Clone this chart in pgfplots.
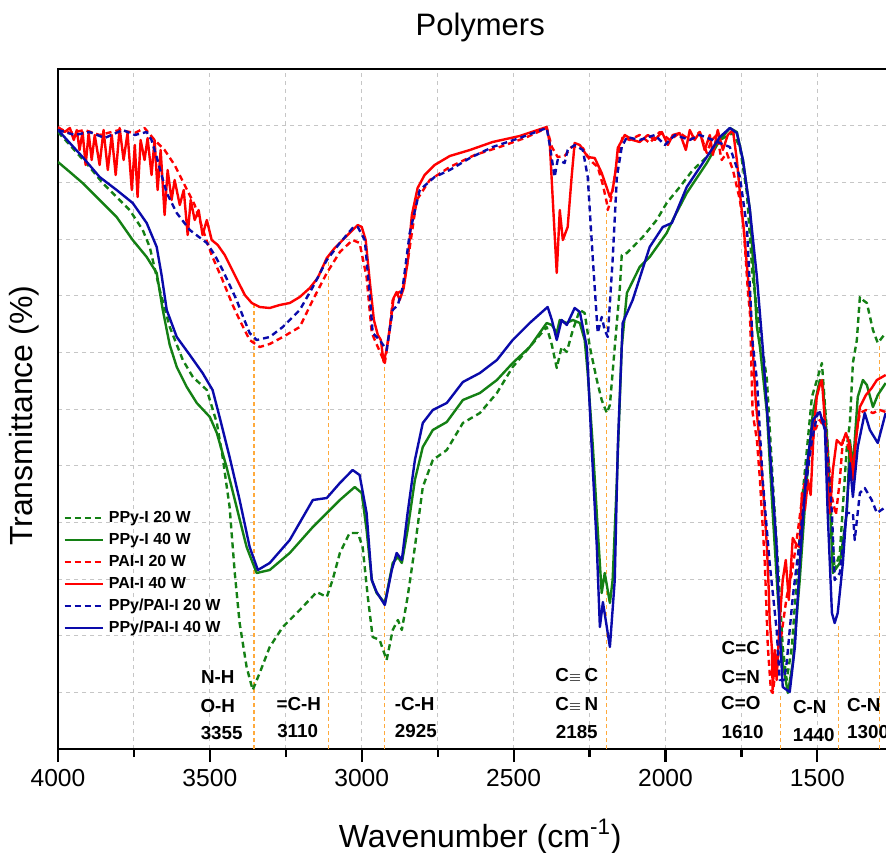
\documentclass[border=0pt]{standalone}
\usepackage{pgfplots}
\pgfplotsset{compat=1.18}
\usepackage{fontspec}
\setmainfont{Liberation Sans}
\definecolor{cgreen}{RGB}{20,128,20}
\definecolor{cred}{RGB}{255,0,0}
\definecolor{cblue}{RGB}{10,10,170}
\definecolor{corange}{RGB}{255,170,60}
\begin{document}
\begin{tikzpicture}
\begin{axis}[
  scale only axis, width=422.2pt, height=340pt,
  x dir=reverse, xmin=1220, xmax=4000, ymin=0, ymax=680,
  xtick={1500,2000,2500,3000,3500,4000},
  minor xtick={1250,1750,2250,2750,3250,3750},
  ytick={56.667,113.333,170,226.667,283.333,340,396.667,453.333,510,566.667,623.333},
  yticklabels={},
  ytick style={draw=none},
  xtick pos=bottom,
  tick align=outside,
  major tick length=6.5pt, minor tick length=4pt,
  every tick/.style={black, line width=1.1pt},
  axis line style={line width=1.1pt},
  grid=both,
  major grid style={gray!45, dash pattern=on 2pt off 2pt, line width=0.5pt},
  minor grid style={gray!45, dash pattern=on 2pt off 2pt, line width=0.5pt},
  /pgf/number format/1000 sep={},
  xticklabel style={font=\fontsize{12.3}{14}\selectfont, /pgf/number format/assume math mode=true},
  title={Polymers},
  title style={font=\fontsize{15.5}{18}\selectfont, at={(axis description cs:0.5,1)}, anchor=base, yshift=10.5pt},
  xlabel={Wavenumber (cm\textsuperscript{-1})},
  xlabel style={font=\fontsize{16}{19}\selectfont, at={(axis description cs:0.5,0)}, anchor=base, yshift=-49pt},
  ylabel={Transmittance (\%)},
  ylabel style={font=\fontsize{16}{19}\selectfont, at={(axis description cs:-0.0296,0.49)}, anchor=base},
  legend cell align=left,
  legend image code/.code={\draw[#1] (0pt,0pt) -- (19pt,0pt);},
  legend style={at={(axis description cs:0.006,0.354)}, anchor=north west, draw=none, fill=none,
    font=\bfseries\fontsize{8}{9}\selectfont, row sep=1.5pt, inner sep=0pt,
    nodes={inner sep=1pt, text height=6pt, text depth=1.5pt}, /tikz/column sep=1.5pt},
  every axis plot/.append style={line width=1.2pt, line join=round},
]
\coordinate (SW) at (axis cs:4000,0);
% reference lines
\addplot[corange, line width=0.6pt, dash pattern=on 2pt off 1.5pt, forget plot] coordinates {(3355,0) (3355,444)};
\addplot[corange, line width=0.6pt, dash pattern=on 2pt off 1.5pt, forget plot] coordinates {(3110,0) (3110,492)};
\addplot[corange, line width=0.6pt, dash pattern=on 2pt off 1.5pt, forget plot] coordinates {(2925,0) (2925,382)};
\addplot[corange, line width=0.6pt, dash pattern=on 2pt off 1.5pt, forget plot] coordinates {(2195,0) (2195,539)};
\addplot[corange, line width=0.6pt, dash pattern=on 2pt off 1.5pt, forget plot] coordinates {(1622,0) (1622,54)};
\addplot[corange, line width=0.6pt, dash pattern=on 2pt off 1.5pt, forget plot] coordinates {(1430,0) (1430,126)};
\addplot[corange, line width=0.6pt, dash pattern=on 2pt off 1.5pt, forget plot] coordinates {(1295,0) (1295,406)};

% PPy-I 20 W
\addplot[cgreen, dash pattern=on 3pt off 2pt] coordinates {
(4000,617)(3961,604)(3896,582)(3853,566)(3807,552)(3764,539)(3721,519)(3698,502)(3665,459)(3632,422)(3589,389)(3556,372)(3510,359)(3477,326)(3458,292)(3435,242)(3418,176)(3402,126)(3379,82)(3359,59)(3336,76)(3303,102)(3260,122)(3204,139)(3148,157)(3115,152)(3096,169)(3072,196)(3040,216)(3013,216)(2997,202)(2980,152)(2964,112)(2941,109)(2918,89)(2898,119)(2881,129)(2868,119)(2849,152)(2825,202)(2799,262)(2766,289)(2720,299)(2667,326)(2611,336)(2555,356)(2503,382)(2447,402)(2391,422)(2374,404)(2358,381)(2342,402)(2325,397)(2305,419)(2282,439)(2266,436)(2249,402)(2226,369)(2210,349)(2193,336)(2183,344)(2167,402)(2150,462)(2144,494)(2127,496)(2075,512)(2029,529)(1996,546)(1953,562)(1910,579)(1864,592)(1821,609)(1778,616)(1755,602)(1732,556)(1713,472)(1689,419)(1666,369)(1647,269)(1630,186)(1614,102)(1601,69)(1584,102)(1568,169)(1548,256)(1518,352)(1485,386)(1469,319)(1452,219)(1443,179)(1426,196)(1403,302)(1393,326)(1383,386)(1370,409)(1360,452)(1350,449)(1337,446)(1317,419)(1301,406)(1275,416)};
\addlegendentry{PPy-I 20 W}
% PPy-I 40 W
\addplot[cgreen] coordinates {
(4000,587)(3961,577)(3919,566)(3863,549)(3807,532)(3754,509)(3708,492)(3675,476)(3655,439)(3632,404)(3609,382)(3576,362)(3543,346)(3500,332)(3477,316)(3445,282)(3412,242)(3379,202)(3346,176)(3303,179)(3237,196)(3161,222)(3115,236)(3072,249)(3023,262)(3000,256)(2984,219)(2967,169)(2951,156)(2924,146)(2898,186)(2881,192)(2868,186)(2849,219)(2825,269)(2799,302)(2766,319)(2720,327)(2667,349)(2611,356)(2555,369)(2503,386)(2447,402)(2391,426)(2374,424)(2358,416)(2348,429)(2325,426)(2305,429)(2282,426)(2266,409)(2256,376)(2239,302)(2223,219)(2210,156)(2200,176)(2183,146)(2174,169)(2160,269)(2144,402)(2127,456)(2085,482)(2052,492)(1996,516)(1976,529)(1930,556)(1864,586)(1821,609)(1788,621)(1765,617)(1745,589)(1722,539)(1699,422)(1689,402)(1666,336)(1647,236)(1630,152)(1614,86)(1597,56)(1581,86)(1558,169)(1535,269)(1515,336)(1492,369)(1482,364)(1466,302)(1449,176)(1426,186)(1403,236)(1393,309)(1383,282)(1367,352)(1350,369)(1337,364)(1317,342)(1301,354)(1275,366)};
\addlegendentry{PPy-I 40 W}
% PAI-I 20 W
\addplot[cred, dash pattern=on 3pt off 2pt] coordinates {
(4000,621)(3961,616)(3912,619)(3863,614)(3797,619)(3747,616)(3715,621)(3682,609)(3649,599)(3616,584)(3583,564)(3550,544)(3517,514)(3494,494)(3477,482)(3461,471)(3445,459)(3425,444)(3402,429)(3369,409)(3336,402)(3303,405)(3260,412)(3204,422)(3161,449)(3115,476)(3072,497)(3030,509)(3007,506)(2984,472)(2967,416)(2947,402)(2924,386)(2908,419)(2898,449)(2881,456)(2865,459)(2849,487)(2819,549)(2776,569)(2710,582)(2628,594)(2546,602)(2463,611)(2391,621)(2374,602)(2355,592)(2332,593)(2309,602)(2289,602)(2272,601)(2249,589)(2223,582)(2206,564)(2193,546)(2190,539)(2180,549)(2174,559)(2157,592)(2141,612)(2118,609)(2085,614)(2052,606)(2019,617)(1986,609)(1953,616)(1920,609)(1887,617)(1864,596)(1848,609)(1831,614)(1815,589)(1798,596)(1778,579)(1755,549)(1742,519)(1729,459)(1722,436)(1713,336)(1699,309)(1689,269)(1673,186)(1663,102)(1653,59)(1647,56)(1637,79)(1624,102)(1601,152)(1584,176)(1568,209)(1548,256)(1525,296)(1508,319)(1492,329)(1472,319)(1452,252)(1439,234)(1426,269)(1416,309)(1400,304)(1383,282)(1370,319)(1360,336)(1340,339)(1317,336)(1294,339)(1275,337)};
\addlegendentry{PAI-I 20 W}
% PAI-I 40 W
\addplot[cred] coordinates {
(4000,622)(3978,617)(3961,621)(3948,609)(3938,619)(3929,599)(3919,617)(3909,584)(3899,616)(3889,589)(3879,614)(3863,584)(3850,619)(3836,579)(3823,614)(3810,574)(3797,621)(3784,589)(3771,616)(3757,559)(3747,604)(3738,552)(3728,609)(3715,589)(3705,611)(3692,574)(3682,609)(3672,559)(3662,599)(3649,534)(3639,579)(3626,549)(3616,569)(3599,544)(3586,559)(3573,514)(3563,549)(3550,529)(3537,539)(3524,514)(3510,529)(3494,509)(3474,504)(3451,494)(3418,474)(3385,454)(3362,446)(3336,442)(3303,441)(3270,444)(3237,446)(3204,452)(3171,461)(3145,471)(3115,491)(3089,501)(3056,511)(3030,519)(3013,524)(3000,522)(2987,509)(2974,469)(2960,429)(2947,414)(2937,409)(2928,387)(2918,399)(2905,427)(2895,451)(2885,457)(2875,449)(2862,461)(2849,487)(2835,534)(2816,561)(2793,574)(2760,584)(2710,593)(2644,599)(2569,607)(2480,613)(2391,622)(2381,606)(2371,549)(2358,476)(2348,539)(2338,509)(2322,522)(2309,572)(2299,606)(2282,604)(2256,592)(2233,591)(2210,576)(2193,561)(2183,552)(2174,559)(2164,579)(2157,601)(2134,614)(2108,609)(2085,607)(2058,614)(2035,609)(2012,617)(1992,604)(1976,614)(1953,616)(1933,599)(1920,619)(1904,609)(1887,617)(1871,599)(1854,614)(1844,594)(1828,619)(1811,599)(1795,614)(1778,619)(1765,589)(1755,556)(1742,519)(1732,484)(1722,449)(1713,402)(1703,349)(1689,302)(1676,249)(1666,202)(1660,159)(1657,129)(1650,102)(1647,59)(1640,99)(1634,69)(1624,129)(1614,169)(1604,189)(1594,149)(1581,211)(1568,204)(1558,202)(1551,256)(1541,239)(1531,269)(1522,254)(1512,319)(1502,352)(1492,364)(1485,369)(1479,344)(1472,309)(1459,236)(1449,279)(1436,309)(1420,304)(1406,316)(1393,304)(1383,269)(1373,309)(1360,342)(1340,354)(1321,361)(1304,369)(1275,374)};
\addlegendentry{PAI-I 40 W}
% PPy/PAI-I 20 W
\addplot[cblue, dash pattern=on 3pt off 2pt] coordinates {
(4000,619)(3945,614)(3896,617)(3846,611)(3787,619)(3747,614)(3708,617)(3692,609)(3675,592)(3659,574)(3642,556)(3609,536)(3566,519)(3510,506)(3484,494)(3458,479)(3435,464)(3412,449)(3389,431)(3369,416)(3346,409)(3303,412)(3260,422)(3204,439)(3161,462)(3115,489)(3072,506)(3030,521)(3013,522)(2990,509)(2974,456)(2964,416)(2941,409)(2918,399)(2898,439)(2881,444)(2865,462)(2842,516)(2809,559)(2760,572)(2710,579)(2644,591)(2569,602)(2480,611)(2391,621)(2381,604)(2365,572)(2355,589)(2332,586)(2322,599)(2299,604)(2272,599)(2256,572)(2239,489)(2223,416)(2210,432)(2200,419)(2190,412)(2174,489)(2160,572)(2144,602)(2127,612)(2085,609)(2035,614)(2002,604)(1969,614)(1920,609)(1887,614)(1844,609)(1821,606)(1788,602)(1755,572)(1732,522)(1713,406)(1699,369)(1680,269)(1657,186)(1634,119)(1624,69)(1610,69)(1601,86)(1581,152)(1558,209)(1541,256)(1518,309)(1499,336)(1475,326)(1452,236)(1443,169)(1426,176)(1403,236)(1383,236)(1377,209)(1360,256)(1344,261)(1321,249)(1304,236)(1275,242)};
\addlegendentry{PPy/PAI-I 20 W}
% PPy/PAI-I 40 W
\addplot[cblue] coordinates {
(4000,619)(3961,606)(3919,592)(3863,572)(3807,559)(3754,546)(3708,526)(3675,502)(3659,474)(3642,439)(3609,412)(3566,394)(3524,376)(3491,359)(3468,332)(3435,292)(3402,249)(3369,202)(3342,179)(3303,186)(3237,209)(3161,249)(3115,251)(3072,266)(3030,279)(3007,274)(2984,236)(2967,169)(2951,157)(2924,144)(2901,179)(2885,196)(2868,189)(2849,236)(2825,289)(2799,326)(2766,339)(2720,346)(2667,367)(2611,376)(2555,389)(2503,409)(2447,426)(2388,442)(2374,429)(2358,409)(2342,429)(2325,424)(2299,441)(2282,437)(2259,402)(2243,302)(2226,202)(2216,122)(2206,147)(2183,102)(2167,169)(2157,302)(2141,426)(2108,449)(2052,502)(2009,522)(1979,526)(1930,562)(1864,592)(1821,612)(1788,621)(1765,616)(1745,589)(1722,539)(1699,472)(1680,402)(1657,302)(1634,202)(1624,119)(1614,62)(1591,57)(1574,102)(1558,186)(1535,282)(1515,329)(1492,337)(1475,319)(1466,236)(1452,136)(1443,126)(1433,136)(1416,186)(1393,286)(1383,252)(1367,302)(1344,336)(1327,319)(1301,306)(1275,336)};
\addlegendentry{PPy/PAI-I 40 W}

% annotations
\begin{scope}[every node/.style={font=\bfseries\fontsize{9.4}{11}\selectfont, inner sep=0pt}]
\node at (axis cs:3474,72) {N-H};
\node at (axis cs:3474,43) {O-H};
\node at (axis cs:3461,16) {3355};
\node at (axis cs:3207,45) {=C-H};
\node at (axis cs:3211,18) {3110};
\node at (axis cs:2826,45) {-C-H};
\node at (axis cs:2822,18) {2925};
\node at (axis cs:2292,74) {C{\fontsize{7}{7}\selectfont$\equiv$}\,C};
\node at (axis cs:2292,45) {C{\fontsize{7}{7}\selectfont$\equiv$}\,N};
\node at (axis cs:2292,17) {2185};
\node at (axis cs:1752,101) {C=C};
\node at (axis cs:1752,72) {C=N};
\node at (axis cs:1752,46) {C=O};
\node at (axis cs:1746,17) {1610};
\node at (axis cs:1525,42) {C-N};
\node at (axis cs:1512,14) {1440};
\node at (axis cs:1347,44) {C-N};
\node at (axis cs:1333,17) {1300};
\end{scope}
\end{axis}
\pgfresetboundingbox
\path ([xshift=-29pt,yshift=-51.5pt]SW) rectangle ([xshift=414pt,yshift=374.5pt]SW);
\end{tikzpicture}
\end{document}
